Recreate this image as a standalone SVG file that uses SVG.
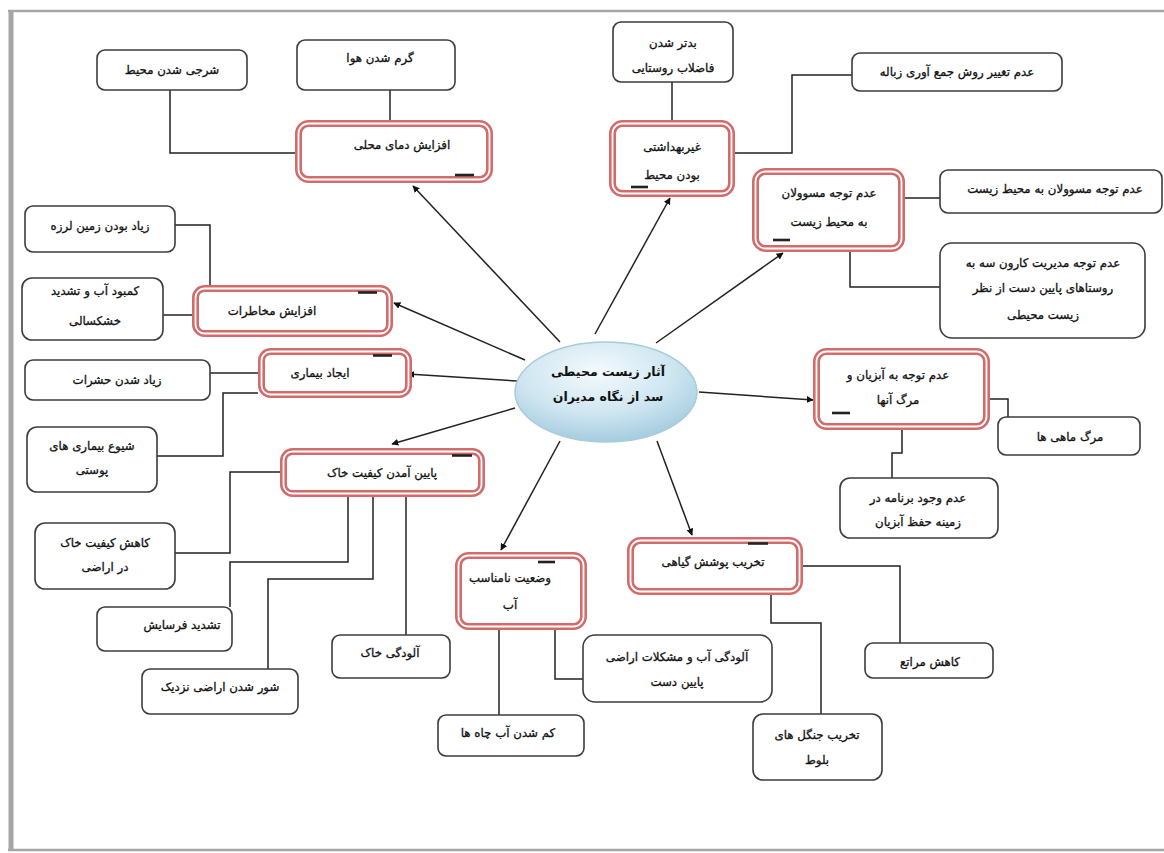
<svg xmlns="http://www.w3.org/2000/svg" width="1164" height="853" viewBox="0 0 1164 853">
<style>
.bg{fill:#ffffff}
.frame{stroke:#a6a6a6;fill:none}
.box{fill:#ffffff;stroke:#3c3c3c;stroke-width:1.6}
.mo{fill:#ffffff;stroke:#d46b6b;stroke-width:7}
.mi{fill:none;stroke:#ffffff;stroke-width:1.8}
.t{font-family:"DejaVu Sans","Noto Sans",sans-serif;font-size:11.8px;fill:#111;stroke:#111;stroke-width:0.3;text-anchor:middle}
.tb{font-family:"DejaVu Sans","Noto Sans",sans-serif;font-size:12.5px;font-weight:bold;fill:#111;text-anchor:middle}
.dash{stroke:#222;stroke-width:2.6}
.c{fill:none;stroke:#222;stroke-width:1.5}
.a{fill:none;stroke:#222;stroke-width:1.5;marker-end:url(#ah)}
.dk{stroke:#5a1a1a;stroke-width:2.5}
</style>
<defs>
<marker id="ah" viewBox="0 0 10 10" refX="9" refY="5" markerWidth="7" markerHeight="7" markerUnits="userSpaceOnUse" orient="auto">
<path d="M0,0 L10,5 L0,10 z" fill="#111"/>
</marker>
<radialGradient id="eg" cx="0.45" cy="0.3" r="0.75">
<stop offset="0" stop-color="#f4fafd"/>
<stop offset="0.55" stop-color="#cfe6f1"/>
<stop offset="1" stop-color="#9ec8dc"/>
</radialGradient>
</defs>
<rect class="bg" x="0" y="0" width="1164" height="853"/>
<g id="frame">
<line class="frame" x1="8" y1="11" x2="1164" y2="11" stroke-width="2.5"/>
<line class="frame" x1="11" y1="10" x2="11" y2="851" stroke-width="5" stroke="#999"/>
<line class="frame" x1="8" y1="850" x2="1164" y2="850" stroke-width="2.5"/>
</g>

<g id="connectors">
<path class="c" d="M170,90 V153 H295"/>
<path class="c" d="M390,90 V120"/>
<path class="c" d="M672,82 V120"/>
<path class="c" d="M735,153 H792 V75 H852"/>
<path class="c" d="M905,198 H940"/>
<path class="c" d="M850,252 V287 H940"/>
<path class="c" d="M175,225 H210 V288"/>
<line class="dk" x1="210" y1="288.5" x2="247" y2="288.5"/>
<path class="c" d="M163,315 H192"/>
<path class="c" d="M210,373 H258"/>
<path class="c" d="M157,456 H223 V393 H258"/>
<path class="c" d="M175,553 H230 V472 H280"/>
<path class="c" d="M348,497 V562 H230 V607"/>
<path class="c" d="M373,497 V579 H268 V669"/>
<path class="c" d="M406,497 V635"/>
<path class="c" d="M499,630 V715"/>
<path class="c" d="M555,630 V679 H583"/>
<line class="dk" x1="525" y1="627.5" x2="555" y2="627.5"/>
<path class="c" d="M803,566 H900 V643"/>
<path class="c" d="M771,595 V623 H821 V714"/>
<path class="c" d="M990,399 H1008 V417"/>
<path class="c" d="M902,430 V453 H892 V478"/>
<path class="a" d="M560,342 L413,186"/>
<path class="a" d="M595,334 L670,198"/>
<path class="a" d="M656,343 L783,253"/>
<path class="a" d="M525,360 L394,303"/>
<path class="a" d="M517,381 L408,374"/>
<path class="a" d="M515,408 L392,444"/>
<path class="a" d="M560,441 L501,550"/>
<path class="a" d="M657,441 L692,535"/>
<path class="a" d="M699,392 L813,400"/>
</g>

<g id="center">
<ellipse cx="606" cy="392" rx="91" ry="50" fill="url(#eg)" stroke="#a9cbdb" stroke-width="1.5"/>
<text class="tb" x="608" y="376">آثار زیست محیطی</text>
<text class="tb" x="608" y="401">سد از نگاه مدیران</text>
</g>

<g id="m-damaye-mahali">
<rect class="mo" x="298.5" y="123.5" width="191" height="56" rx="10"/>
<rect class="mi" x="298.5" y="123.5" width="191" height="56" rx="10"/>
<text class="t" x="402" y="149">افزایش دمای محلی</text>
<line class="dash" x1="455" y1="175" x2="474" y2="175"/>
</g>
<g id="m-gheyrebehdashti">
<rect class="mo" x="612.5" y="123.5" width="119" height="70" rx="10"/>
<rect class="mi" x="612.5" y="123.5" width="119" height="70" rx="10"/>
<text class="t" x="672" y="151">غیربهداشتی</text>
<text class="t" x="672" y="179">بودن محیط</text>
<line class="dash" x1="631" y1="187" x2="648" y2="187"/>
</g>
<g id="m-masoolan">
<rect class="mo" x="755.5" y="171.5" width="146" height="77" rx="10"/>
<rect class="mi" x="755.5" y="171.5" width="146" height="77" rx="10"/>
<text class="t" x="829" y="197">عدم توجه مسوولان</text>
<text class="t" x="829" y="226">به محیط زیست</text>
<line class="dash" x1="773" y1="240" x2="790" y2="240"/>
</g>
<g id="m-makhaterat">
<rect class="mo" x="195.5" y="288.5" width="194" height="45" rx="9"/>
<rect class="mi" x="195.5" y="288.5" width="194" height="45" rx="9"/>
<text class="t" x="272" y="315">افزایش مخاطرات</text>
<line class="dash" x1="358" y1="292.5" x2="377" y2="292.5"/>
</g>
<g id="m-bimari">
<rect class="mo" x="261.5" y="351.5" width="147" height="43" rx="9"/>
<rect class="mi" x="261.5" y="351.5" width="147" height="43" rx="9"/>
<text class="t" x="320" y="377">ایجاد بیماری</text>
<line class="dash" x1="373" y1="355.5" x2="392" y2="355.5"/>
</g>
<g id="m-khak">
<rect class="mo" x="283.5" y="451.5" width="198" height="42" rx="9"/>
<rect class="mi" x="283.5" y="451.5" width="198" height="42" rx="9"/>
<text class="t" x="382" y="477">پایین آمدن کیفیت خاک</text>
<line class="dash" x1="452" y1="455.5" x2="472" y2="455.5"/>
</g>
<g id="m-ab">
<rect class="mo" x="458.5" y="555.5" width="125" height="71" rx="10"/>
<rect class="mi" x="458.5" y="555.5" width="125" height="71" rx="10"/>
<text class="t" x="510" y="582">وضعیت نامناسب</text>
<text class="t" x="510" y="609">آب</text>
<line class="dash" x1="538" y1="562" x2="555" y2="562"/>
</g>
<g id="m-poushesh">
<rect class="mo" x="630.5" y="540.5" width="169" height="51" rx="10"/>
<rect class="mi" x="630.5" y="540.5" width="169" height="51" rx="10"/>
<text class="t" x="713" y="566">تخریب پوشش گیاهی</text>
<line class="dash" x1="748" y1="543.5" x2="768" y2="543.5"/>
</g>
<g id="m-abziyan">
<rect class="mo" x="816.5" y="351.5" width="170" height="75" rx="10"/>
<rect class="mi" x="816.5" y="351.5" width="170" height="75" rx="10"/>
<text class="t" x="898" y="379">عدم توجه به آبزیان و</text>
<text class="t" x="898" y="404">مرگ آنها</text>
<line class="dash" x1="832" y1="413" x2="850" y2="413"/>
</g>

<g id="n-sharji"><rect class="box" x="97" y="50" width="150" height="40" rx="8"/><text class="t" x="172" y="74">شرجی شدن محیط</text></g>
<g id="n-garm"><rect class="box" x="297" y="40" width="158" height="50" rx="8"/><text class="t" x="380" y="62">گرم شدن هوا</text></g>
<g id="n-badtar"><rect class="box" x="613" y="22" width="120" height="60" rx="8"/><text class="t" x="673" y="47">بدتر شدن</text><text class="t" x="673" y="72">فاضلاب روستایی</text></g>
<g id="n-zobale"><rect class="box" x="852" y="53" width="210" height="38" rx="8"/><text class="t" x="957" y="76">عدم تغییر روش جمع آوری زباله</text></g>
<g id="n-masoolan2"><rect class="box" x="940" y="170" width="222" height="43" rx="8"/><text class="t" x="1055" y="193">عدم توجه مسوولان به محیط  زیست</text></g>
<g id="n-karoon"><rect class="box" x="940" y="243" width="205" height="95" rx="12"/><text class="t" x="1043" y="267">عدم توجه مدیریت  کارون سه به</text><text class="t" x="1043" y="292">روستاهای پایین  دست  از نظر</text><text class="t" x="1043" y="319">زیست محیطی</text></g>
<g id="n-zelzele"><rect class="box" x="25" y="206" width="150" height="46" rx="8"/><text class="t" x="100" y="230">زیاد بودن زمین لرزه</text></g>
<g id="n-kambood"><rect class="box" x="22" y="278" width="141" height="62" rx="10"/><text class="t" x="95" y="295">کمبود آب و تشدید</text><text class="t" x="95" y="325">خشکسالی</text></g>
<g id="n-hasharat"><rect class="box" x="25" y="360" width="185" height="40" rx="8"/><text class="t" x="117" y="384">زیاد شدن حشرات</text></g>
<g id="n-shiyoo"><rect class="box" x="27" y="427" width="130" height="65" rx="10"/><text class="t" x="92" y="450">شیوع بیماری های</text><text class="t" x="92" y="474">پوستی</text></g>
<g id="n-kahesh-khak"><rect class="box" x="35" y="523" width="140" height="66" rx="10"/><text class="t" x="105" y="547">کاهش کیفیت خاک</text><text class="t" x="105" y="571">در اراضی</text></g>
<g id="n-farsayesh"><rect class="box" x="97" y="607" width="135" height="44" rx="8"/><text class="t" x="182" y="629">تشدید فرسایش</text></g>
<g id="n-shoor"><rect class="box" x="142" y="669" width="156" height="45" rx="8"/><text class="t" x="220" y="691">شور شدن اراضی نزدیک</text></g>
<g id="n-aloodegi-khak"><rect class="box" x="332" y="635" width="118" height="43" rx="8"/><text class="t" x="390" y="657">آلودگی خاک</text></g>
<g id="n-chah"><rect class="box" x="438" y="715" width="146" height="41" rx="8"/><text class="t" x="508" y="737">کم شدن آب چاه ها</text></g>
<g id="n-aloodegi-ab"><rect class="box" x="583" y="635" width="189" height="67" rx="12"/><text class="t" x="677" y="661">آلودگی آب و مشکلات اراضی</text><text class="t" x="677" y="686">پایین دست</text></g>
<g id="n-jangal"><rect class="box" x="753" y="714" width="129" height="66" rx="10"/><text class="t" x="817" y="739">تخریب جنگل های</text><text class="t" x="817" y="764">بلوط</text></g>
<g id="n-marate"><rect class="box" x="865" y="643" width="128" height="35" rx="8"/><text class="t" x="930" y="666">کاهش مراتع</text></g>
<g id="n-mahi"><rect class="box" x="998" y="417" width="142" height="38" rx="8"/><text class="t" x="1070" y="441">مرگ ماهی ها</text></g>
<g id="n-barname"><rect class="box" x="840" y="478" width="158" height="60" rx="10"/><text class="t" x="918" y="502">عدم وجود برنامه در</text><text class="t" x="918" y="526">زمینه  حفظ آبزیان</text></g>
</svg>
